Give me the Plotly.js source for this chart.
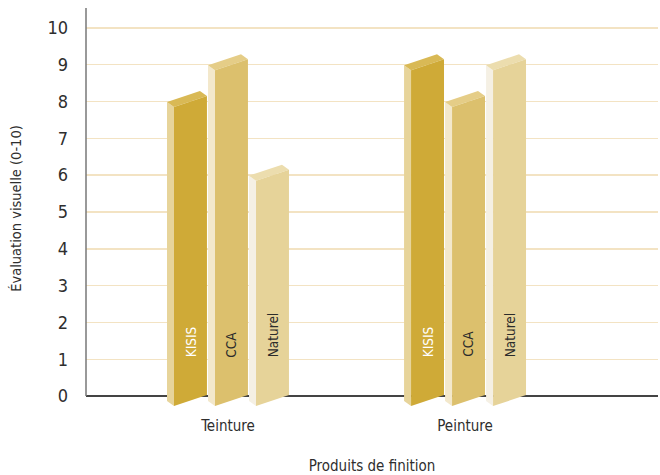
<!DOCTYPE html>
<html>
<head>
<meta charset="utf-8">
<script src="https://cdn.plot.ly/plotly-3.0.1.min.js"></script>
<style>html,body{margin:0;padding:0;background:#fff;}#chart{width:660px;height:475px;}</style>
</head>
<body>
<div id="chart"></div>
<script>
// ---- data ----
const categories = ['Teinture', 'Peinture'];
const seriesNames = ['KISIS', 'CCA', 'Naturel'];
const kisis = [8, 9];
const cca = [9, 8];
const naturel = [6, 9];
const yTicks = [0, 1, 2, 3, 4, 5, 6, 7, 8, 9, 10];

// ---- styles ----
const seriesValues = [kisis, cca, naturel];
const frontColors = ['#CFAA37', '#DCC06D', '#E6D399'];
const sideColors  = ['#E7D49A', '#F3E8CB', '#F5F0E4'];
const topColors   = ['#D9B955', '#E5CD87', '#ECDDAE'];
const labelColors = ['#FFFFFF', '#2b2b2b', '#2b2b2b'];
const FONT = '"DejaVu Sans Condensed", "Liberation Sans Narrow", sans-serif';

// geometry (in axis units)
const pitch = 0.173;     // distance between bars in a group
const frontW = 0.139;    // width of front face
const depthX = 0.0295;   // depth offset in x (to the left)
const depthY = 0.136;    // depth offset in y (upwards)
const slant = 0.15;      // half rise of front face edges
const base = -0.12;      // mid of bottom edge

const traces = [];
const annotations = [];
categories.forEach((cat, g) => {
  seriesNames.forEach((name, j) => {
    const v = seriesValues[j][g];
    const center = g + (j - 1) * pitch;
    const xL = center - (frontW + depthX) / 2 + depthX; // front-left x
    const xR = xL + frontW;
    // side face
    traces.push({
      type: 'scatter', mode: 'lines', fill: 'toself', hoverinfo: 'skip', showlegend: false,
      x: [xL - depthX, xL, xL, xL - depthX, xL - depthX],
      y: [v - slant + depthY, v - slant, base - slant, base - slant + depthY, v - slant + depthY],
      fillcolor: sideColors[j], line: {width: 0, color: sideColors[j]}
    });
    // top face
    traces.push({
      type: 'scatter', mode: 'lines', fill: 'toself', hoverinfo: 'skip', showlegend: false,
      x: [xL - depthX, xL, xR, xR - depthX, xL - depthX],
      y: [v - slant + depthY, v - slant, v + slant, v + slant + depthY, v - slant + depthY],
      fillcolor: topColors[j], line: {width: 0, color: topColors[j]}
    });
    // front face
    traces.push({
      type: 'scatter', mode: 'lines', fill: 'toself', showlegend: false, name: name,
      hovertemplate: cat + ' – ' + name + ': ' + v + '<extra></extra>',
      x: [xL, xR, xR, xL, xL],
      y: [v - slant, v + slant, base + slant, base - slant, v - slant],
      fillcolor: frontColors[j], line: {width: 0, color: frontColors[j]}
    });
    annotations.push({
      x: (xL + xR) / 2, y: 1.0, xref: 'x', yref: 'y',
      text: name, showarrow: false, textangle: -90,
      xanchor: 'center', yanchor: 'bottom',
      font: {family: FONT, size: 13.5, color: labelColors[j]}
    });
  });
});

const yTop = 10.54;
const layout = {
  width: 660, height: 475,
  margin: {l: 86, r: 2, t: 8, b: 66},
  paper_bgcolor: '#ffffff', plot_bgcolor: '#ffffff',
  showlegend: false,
  font: {family: FONT, color: '#333333'},
  xaxis: {
    range: [-0.599, 1.814],
    tickvals: categories.map((c, i) => i),
    ticktext: categories,
    showgrid: false, zeroline: false, showline: false,
    ticks: '', ticklabelstandoff: 6,
    tickfont: {family: FONT, size: 15, color: '#2e2e2e'},
    title: {text: 'Produits de finition', font: {family: FONT, size: 15, color: '#2e2e2e'}, standoff: 28},
    fixedrange: true
  },
  yaxis: {
    range: [-0.35, yTop],
    tickvals: yTicks,
    showgrid: true, gridcolor: '#F3E3C3', gridwidth: 1.5,
    zeroline: true, zerolinecolor: '#444444', zerolinewidth: 1.3,
    showline: false, ticks: '', ticklabelstandoff: 17,
    tickfont: {family: FONT, size: 18, color: '#2e2e2e'},
    title: {text: 'Évaluation visuelle (0-10)', font: {family: FONT, size: 14.5, color: '#2e2e2e'}, standoff: 22},
    fixedrange: true
  },
  shapes: [{
    type: 'line', xref: 'paper', x0: 0, x1: 0, yref: 'y', y0: 0, y1: yTop,
    line: {color: '#777777', width: 1.5}, layer: 'above'
  }],
  annotations: annotations
};

Plotly.newPlot('chart', traces, layout, {displayModeBar: false, staticPlot: true});
</script>
</body>
</html>
